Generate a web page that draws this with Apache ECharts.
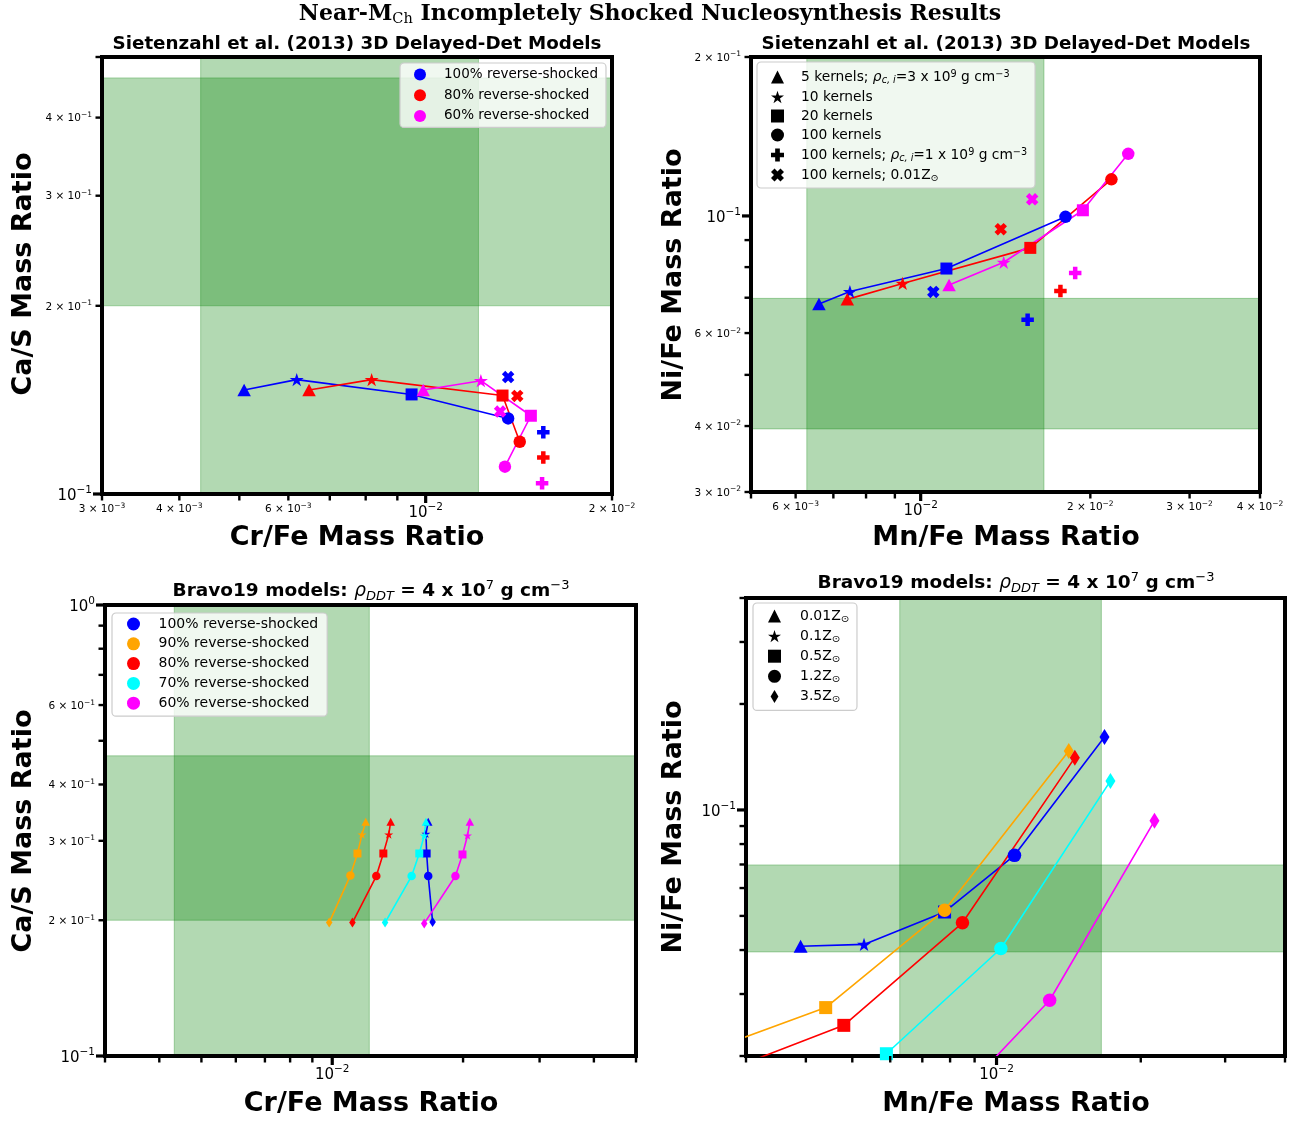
<!DOCTYPE html>
<html>
<head>
<meta charset="utf-8">
<title>Near-MCh Incompletely Shocked Nucleosynthesis Results</title>
<script src="https://cdn.jsdelivr.net/npm/echarts@6/dist/echarts.min.js"></script>
<style>
  html, body { margin: 0; padding: 0; background: #fff; }
  #chart { width: 1304px; height: 1121px; }
</style>
</head>
<body>
<div id="chart"></div>
<script>
// ---------------------------------------------------------------------------
// Sietenzahl et al. (2013) 3D delayed-detonation models
// point order: 5 kernels (rho_c,i = 3e9), 10 kernels, 20 kernels, 100 kernels,
//              100 kernels (rho_c,i = 1e9), 100 kernels (0.01 Zsun)
// ---------------------------------------------------------------------------
const sietShapes = ['triangle', 'star', 'square', 'circle', 'plus', 'cross'];
const sietLabels = [
  '5 kernels; ρc,i=3 x 10^9 g cm^-3',
  '10 kernels',
  '20 kernels',
  '100 kernels',
  '100 kernels; ρc,i=1 x 10^9 g cm^-3',
  '100 kernels; 0.01Z⊙'
];

const siet100CrFe = [5.09e-3, 6.19e-3, 9.49e-3, 1.359e-2, 1.549e-2, 1.359e-2];
const siet100CaS  = [0.1467, 0.1524, 0.1443, 0.1321, 0.1255, 0.1538];
const siet80CrFe  = [6.48e-3, 8.18e-3, 1.331e-2, 1.419e-2, 1.549e-2, 1.406e-2];
const siet80CaS   = [0.1467, 0.1524, 0.1437, 0.1212, 0.1144, 0.1435];
const siet60CrFe  = [9.91e-3, 1.228e-2, 1.479e-2, 1.343e-2, 1.542e-2, 1.319e-2];
const siet60CaS   = [0.1467, 0.1518, 0.1334, 0.1106, 0.1040, 0.1355];

const siet100MnFe = [6.60e-3, 7.49e-3, 1.111e-2, 1.807e-2, 1.548e-2, 1.053e-2];
const siet100NiFe = [0.0681, 0.0719, 0.0795, 0.0996, 0.0636, 0.0718];
const siet80MnFe  = [7.41e-3, 9.29e-3, 1.565e-2, 2.180e-2, 1.770e-2, 1.387e-2];
const siet80NiFe  = [0.0695, 0.0745, 0.0870, 0.1173, 0.0721, 0.0944];
const siet60MnFe  = [1.123e-2, 1.404e-2, 1.940e-2, 2.335e-2, 1.880e-2, 1.577e-2];
const siet60NiFe  = [0.0740, 0.0817, 0.1025, 0.1311, 0.0780, 0.1075];

// ---------------------------------------------------------------------------
// Bravo19 models, rho_DDT = 4e7 g cm^-3
// point order: 0.01, 0.1, 0.5, 1.2, 3.5 Zsun  (null = falls outside the axes)
// ---------------------------------------------------------------------------
const bravoShapes = ['triangle', 'star', 'square', 'circle', 'diamond'];
const bravoLabels = ['0.01Z⊙', '0.1Z⊙', '0.5Z⊙', '1.2Z⊙', '3.5Z⊙'];

const bravo100CrFe = [1.663e-2, 1.643e-2, 1.649e-2, 1.663e-2, 1.702e-2];
const bravo100CaS  = [0.3306, 0.3110, 0.2812, 0.2506, 0.1982];
const bravo90CrFe  = [1.194e-2, 1.171e-2, 1.143e-2, 1.101e-2, 9.84e-3];
const bravo90CaS   = [0.3306, 0.3100, 0.2812, 0.2514, 0.1976];
const bravo80CrFe  = [1.363e-2, 1.349e-2, 1.311e-2, 1.263e-2, 1.113e-2];
const bravo80CaS   = [0.3306, 0.3100, 0.2812, 0.2506, 0.1976];
const bravo70CrFe  = [1.643e-2, 1.628e-2, 1.586e-2, 1.523e-2, 1.323e-2];
const bravo70CaS   = [0.3306, 0.3083, 0.2812, 0.2506, 0.1976];
const bravo60CrFe  = [2.073e-2, 2.048e-2, 1.994e-2, 1.921e-2, 1.628e-2];
const bravo60CaS   = [0.3306, 0.3083, 0.2798, 0.2506, 0.1968];

const bravo100MnFe = [3.90e-3, 5.29e-3, 7.79e-3, 1.090e-2, 1.680e-2];
const bravo100NiFe = [0.0410, 0.0415, 0.0513, 0.0743, 0.1612];
const bravo90MnFe  = [null, 2.50e-3, 4.40e-3, 7.79e-3, 1.415e-2];
const bravo90NiFe  = [null, 0.0207, 0.02745, 0.0519, 0.1471];
const bravo80MnFe  = [null, 2.82e-3, 4.80e-3, 8.49e-3, 1.457e-2];
const bravo80NiFe  = [null, 0.0185, 0.02444, 0.0478, 0.1408];
const bravo70MnFe  = [null, null, 5.89e-3, 1.021e-2, 1.729e-2];
const bravo70NiFe  = [null, null, 0.0203, 0.0404, 0.1209];
const bravo60MnFe  = [null, null, 9.33e-3, 1.291e-2, 2.136e-2];
const bravo60NiFe  = [null, null, 0.0181, 0.0288, 0.0931];

// observed abundance ranges (shaded bands)
const crFeBand = [4.33e-3, 1.217e-2];
const caSBand  = [0.2, 0.463];
const mnFeBand = [6.28e-3, 1.655e-2];
const niFeBand = [0.0395, 0.0698];

// axis ranges
const tlX = [0.003, 0.02], tlY = [0.1, 0.5];
const trX = [0.005, 0.04], trY = [0.03, 0.2];
const blX = [0.003, 0.05], blY = [0.1, 1];
const brX = [0.003, 0.04], brY = [0.02, 0.4];

// tick positions and their labels ('' = unlabelled tick)
const tlXTicks = [0.003, 0.004, 0.005, 0.006, 0.007, 0.008, 0.009, 0.01, 0.02];
const tlXTickLabels = ['3 × 10^{−3}', '4 × 10^{−3}', '', '6 × 10^{−3}', '', '', '', '10^{−2}', '2 × 10^{−2}'];
const tlYTicks = [0.1, 0.2, 0.3, 0.4, 0.5];
const tlYTickLabels = ['10^{−1}', '2 × 10^{−1}', '3 × 10^{−1}', '4 × 10^{−1}', ''];

const trXTicks = [0.005, 0.006, 0.007, 0.008, 0.009, 0.01, 0.02, 0.03, 0.04];
const trXTickLabels = ['', '6 × 10^{−3}', '', '', '', '10^{−2}', '2 × 10^{−2}', '3 × 10^{−2}', '4 × 10^{−2}'];
const trYTicks = [0.03, 0.04, 0.05, 0.06, 0.07, 0.08, 0.09, 0.1, 0.2];
const trYTickLabels = ['3 × 10^{−2}', '4 × 10^{−2}', '', '6 × 10^{−2}', '', '', '', '10^{−1}', '2 × 10^{−1}'];

const blXTicks = [0.003, 0.004, 0.005, 0.006, 0.007, 0.008, 0.009, 0.01, 0.02, 0.03, 0.04, 0.05];
const blXTickLabels = ['', '', '', '', '', '', '', '10^{−2}', '', '', '', ''];
const blYTicks = [0.1, 0.2, 0.3, 0.4, 0.5, 0.6, 0.7, 0.8, 0.9, 1];
const blYTickLabels = ['10^{−1}', '2 × 10^{−1}', '3 × 10^{−1}', '4 × 10^{−1}', '', '6 × 10^{−1}', '', '', '', '10^{0}'];

const brXTicks = [0.003, 0.004, 0.005, 0.006, 0.007, 0.008, 0.009, 0.01, 0.02, 0.03, 0.04];
const brXTickLabels = ['', '', '', '', '', '', '', '10^{−2}', '', '', ''];
const brYTicks = [0.02, 0.03, 0.04, 0.05, 0.06, 0.07, 0.08, 0.09, 0.1, 0.2, 0.3, 0.4];
const brYTickLabels = ['', '', '', '', '', '', '', '', '10^{−1}', '', '', ''];

// ---------------------------------------------------------------------------
const COLORS = { s100: '#0000ff', s90: '#ffa500', s80: '#ff0000', s70: '#00ffff', s60: '#ff00ff' };
const NAMES = {
  s100: '100% reverse-shocked', s90: '90% reverse-shocked', s80: '80% reverse-shocked',
  s70: '70% reverse-shocked', s60: '60% reverse-shocked'
};

const SYMBOLS = {
  triangle: 'triangle',
  star: 'path://M50,0L61.23,34.55L97.55,34.55L68.17,55.9L79.39,90.45L50,69.1L20.61,90.45L31.83,55.9L2.45,34.55L38.77,34.55Z',
  square: 'rect',
  circle: 'circle',
  plus: 'path://M32,0H68V32H100V68H68V100H32V68H0V32H32Z',
  cross: 'path://M0,27L27,0L50,23L73,0L100,27L77,50L100,73L73,100L50,77L27,100L0,73L23,50Z',
  diamond: 'path://M30,0L60,50L30,100L0,50Z'
};

const sizeTop = { triangle: [13.5, 12.5], star: [14, 13.3], square: [12, 12], circle: [12.5, 12.5], plus: [12.5, 12.5], cross: [12.5, 12.5] };
const sizeBL  = { triangle: [8.5, 8], star: [9, 8.6], square: [8, 8], circle: [8.5, 8.5], diamond: [6.5, 10] };
const sizeBR  = { triangle: [14, 13], star: [14, 13.3], square: [13, 13], circle: [13.5, 13.5], diamond: [10, 16] };

const FONT = 'DejaVu Sans';

function pointsOf(xs, ys, shapes, sizes, idx) {
  return idx.filter(i => xs[i] != null && ys[i] != null).map(i => ({
    value: [xs[i], ys[i]],
    symbol: SYMBOLS[shapes[i]],
    symbolSize: sizes[shapes[i]]
  }));
}

function lineSeries(key, grid, data) {
  const color = COLORS[key];
  return {
    type: 'line', name: NAMES[key], xAxisIndex: grid, yAxisIndex: grid, data,
    z: 3, clip: true, silent: true, showSymbol: true, color,
    lineStyle: { color, width: 1.6 },
    itemStyle: { color, borderWidth: 0 },
    emphasis: { disabled: true }
  };
}

function scatterSeries(key, grid, data) {
  const color = COLORS[key];
  return {
    type: 'scatter', name: NAMES[key], xAxisIndex: grid, yAxisIndex: grid, data,
    z: 3, clip: true, silent: true,
    itemStyle: { color, opacity: 1, borderWidth: 0 },
    emphasis: { disabled: true }
  };
}

function bandSeries(grid, xBand, yBand) {
  return {
    type: 'scatter', xAxisIndex: grid, yAxisIndex: grid, data: [], z: 1, silent: true,
    markArea: {
      silent: true,
      itemStyle: { color: 'rgba(0,128,0,0.3)', borderColor: 'rgba(0,128,0,0.3)', borderWidth: 1 },
      data: [
        [{ xAxis: xBand[0] }, { xAxis: xBand[1] }],
        [{ yAxis: yBand[0] }, { yAxis: yBand[1] }]
      ]
    }
  };
}

// log tick labels in mathtext style: mantissa x 10 with superscript exponent
const tickRich = {
  b: { fontFamily: FONT, fontSize: 10.5, lineHeight: 13, verticalAlign: 'bottom', fill: '#000' },
  s: { fontFamily: FONT, fontSize: 7.5, lineHeight: 7.5, verticalAlign: 'top', fill: '#000' },
  B: { fontFamily: FONT, fontSize: 15, lineHeight: 19, verticalAlign: 'bottom', fill: '#000' },
  S: { fontFamily: FONT, fontSize: 10.5, lineHeight: 10, verticalAlign: 'top', fill: '#000' }
};
function richTick(label, major) {
  const m = label.match(/^(.*)\^\{(.*)\}$/);
  const b = major ? 'B' : 'b', s = major ? 'S' : 's';
  return '{' + b + '|' + m[1] + '}{' + s + '|' + m[2] + '}';
}

function tickSeries(grid, dim, values, labels, otherEnd) {
  return {
    type: 'custom', xAxisIndex: grid, yAxisIndex: grid, z: 4, silent: true, clip: false,
    data: values.map(v => dim === 'x' ? [v, otherEnd] : [otherEnd, v]),
    renderItem: function (params, api) {
      const i = params.dataIndex;
      const lg = Math.log10(values[i]);
      const major = Math.abs(lg - Math.round(lg)) < 1e-6;
      const p = api.coord([api.value(0), api.value(1)]);
      const len = major ? 9 : 6.5;
      const lw = major ? 3.2 : 2.4;
      const text = labels[i] ? richTick(labels[i], major) : '';
      const kids = [];
      if (dim === 'x') {
        kids.push({ type: 'line', shape: { x1: p[0], y1: p[1], x2: p[0], y2: p[1] + len }, style: { stroke: '#000', lineWidth: lw } });
        if (text) kids.push({ type: 'text', x: p[0], y: p[1] + 8,
          style: { text, rich: tickRich, align: 'center', verticalAlign: 'top', fill: '#000' } });
      } else {
        kids.push({ type: 'line', shape: { x1: p[0] - len, y1: p[1], x2: p[0], y2: p[1] }, style: { stroke: '#000', lineWidth: lw } });
        if (text) kids.push({ type: 'text', x: p[0] - 10, y: p[1],
          style: { text, rich: tickRich, align: 'right', verticalAlign: 'middle', fill: '#000' } });
      }
      return { type: 'group', children: kids };
    }
  };
}

function legendDummy(name, shape, grid) {
  return { type: 'scatter', name, xAxisIndex: grid, yAxisIndex: grid, data: [], symbol: SYMBOLS[shape],
           itemStyle: { color: '#000', opacity: 1 }, silent: true };
}

// ---------------------------------------------------------------------------
const series = [];
series.push(bandSeries(0, crFeBand, caSBand));
series.push(bandSeries(1, mnFeBand, niFeBand));
series.push(bandSeries(2, crFeBand, caSBand));
series.push(bandSeries(3, mnFeBand, niFeBand));

// top-left: Cr/Fe vs Ca/S, Sietenzahl
[['s100', siet100CrFe, siet100CaS], ['s80', siet80CrFe, siet80CaS], ['s60', siet60CrFe, siet60CaS]].forEach(([k, xs, ys]) => {
  series.push(lineSeries(k, 0, pointsOf(xs, ys, sietShapes, sizeTop, [0, 1, 2, 3])));
  series.push(scatterSeries(k, 0, pointsOf(xs, ys, sietShapes, sizeTop, [4, 5])));
});
// top-right: Mn/Fe vs Ni/Fe, Sietenzahl
[['s100', siet100MnFe, siet100NiFe], ['s80', siet80MnFe, siet80NiFe], ['s60', siet60MnFe, siet60NiFe]].forEach(([k, xs, ys]) => {
  series.push(lineSeries(k, 1, pointsOf(xs, ys, sietShapes, sizeTop, [0, 1, 2, 3])));
  series.push(scatterSeries(k, 1, pointsOf(xs, ys, sietShapes, sizeTop, [4, 5])));
});
// bottom-left: Cr/Fe vs Ca/S, Bravo19
[['s100', bravo100CrFe, bravo100CaS], ['s90', bravo90CrFe, bravo90CaS], ['s80', bravo80CrFe, bravo80CaS],
 ['s70', bravo70CrFe, bravo70CaS], ['s60', bravo60CrFe, bravo60CaS]].forEach(([k, xs, ys]) => {
  series.push(lineSeries(k, 2, pointsOf(xs, ys, bravoShapes, sizeBL, [0, 1, 2, 3, 4])));
});
// bottom-right: Mn/Fe vs Ni/Fe, Bravo19
[['s100', bravo100MnFe, bravo100NiFe], ['s90', bravo90MnFe, bravo90NiFe], ['s80', bravo80MnFe, bravo80NiFe],
 ['s70', bravo70MnFe, bravo70NiFe], ['s60', bravo60MnFe, bravo60NiFe]].forEach(([k, xs, ys]) => {
  series.push(lineSeries(k, 3, pointsOf(xs, ys, bravoShapes, sizeBR, [0, 1, 2, 3, 4])));
});

sietLabels.forEach((n, i) => series.push(legendDummy(n, sietShapes[i], 1)));
bravoLabels.forEach((n, i) => series.push(legendDummy(n, bravoShapes[i], 3)));

series.push(tickSeries(0, 'x', tlXTicks, tlXTickLabels, tlY[0]));
series.push(tickSeries(0, 'y', tlYTicks, tlYTickLabels, tlX[0]));
series.push(tickSeries(1, 'x', trXTicks, trXTickLabels, trY[0]));
series.push(tickSeries(1, 'y', trYTicks, trYTickLabels, trX[0]));
series.push(tickSeries(2, 'x', blXTicks, blXTickLabels, blY[0]));
series.push(tickSeries(2, 'y', blYTicks, blYTickLabels, blX[0]));
series.push(tickSeries(3, 'x', brXTicks, brXTickLabels, brY[0]));
series.push(tickSeries(3, 'y', brYTicks, brYTickLabels, brX[0]));

// ---------------------------------------------------------------------------
const gridBase = { show: true, borderColor: '#000', borderWidth: 4, backgroundColor: 'transparent', z: 2 };
const grids = [
  Object.assign({ left: 102, top: 57, width: 510, height: 437 }, gridBase),
  Object.assign({ left: 751, top: 57, width: 509, height: 435 }, gridBase),
  Object.assign({ left: 105, top: 605, width: 531, height: 451 }, gridBase),
  Object.assign({ left: 746, top: 598, width: 539, height: 458 }, gridBase)
];
function logAxis(grid, range) {
  return {
    type: 'log', logBase: 10, gridIndex: grid, min: range[0], max: range[1],
    axisLine: { show: false }, axisTick: { show: false }, axisLabel: { show: false },
    splitLine: { show: false }, minorTick: { show: false }, minorSplitLine: { show: false }
  };
}

// legends
const legendBox = {
  orient: 'vertical', selectedMode: false,
  backgroundColor: 'rgba(255,255,255,0.8)', borderColor: '#cccccc', borderWidth: 1.2, borderRadius: 4
};
const sietLegendRich = {
  '5 kernels; ρc,i=3 x 10^9 g cm^-3': '{g| }{t|5 kernels; }{i|ρ}{sub|c, i}{t|=3 x 10}{sup|9}{t| g cm}{sup|−3}',
  '10 kernels': '{g| }{t|10 kernels}',
  '20 kernels': '{g| }{t|20 kernels}',
  '100 kernels': '{g| }{t|100 kernels}',
  '100 kernels; ρc,i=1 x 10^9 g cm^-3': '{g| }{t|100 kernels; }{i|ρ}{sub|c, i}{t|=1 x 10}{sup|9}{t| g cm}{sup|−3}',
  '100 kernels; 0.01Z⊙': '{g| }{t|100 kernels; 0.01Z}{sub|⊙}'
};
function legendRich(size, gap, lh) {
  return {
    g: { width: gap, fontSize: size },
    t: { fontFamily: FONT, fontSize: size, lineHeight: lh, verticalAlign: 'middle', color: '#000' },
    i: { fontFamily: FONT, fontStyle: 'italic', fontSize: size, lineHeight: lh, verticalAlign: 'middle', color: '#000' },
    sup: { fontFamily: FONT, fontSize: size * 0.7, lineHeight: 9, verticalAlign: 'top', color: '#000' },
    sub: { fontFamily: FONT, fontStyle: 'italic', fontSize: size * 0.7, lineHeight: 7, verticalAlign: 'bottom', color: '#000' }
  };
}

const legends = [
  Object.assign({}, legendBox, {
    left: 400, top: 63, padding: [4.5, 8, 4.5, 14], itemWidth: 12, itemHeight: 12, itemGap: 6.7,
    data: ['s100', 's80', 's60'].map(k => ({ name: NAMES[k], icon: 'circle' })),
    formatter: n => '{g| }{t|' + n + '}',
    textStyle: { rich: legendRich(13.5, 13, 14) }
  }),
  Object.assign({}, legendBox, {
    left: 757, top: 62, padding: [7, 8, 5, 14], itemWidth: 13, itemHeight: 13, itemGap: 5,
    data: sietLabels.map((n, i) => ({ name: n, icon: SYMBOLS[sietShapes[i]] })),
    formatter: n => sietLegendRich[n],
    textStyle: { rich: legendRich(13.8, 12, 16) }
  }),
  Object.assign({}, legendBox, {
    left: 112, top: 613, padding: [4, 9, 6, 15], itemWidth: 13, itemHeight: 13, itemGap: 5.8,
    data: ['s100', 's90', 's80', 's70', 's60'].map(k => ({ name: NAMES[k], icon: 'circle' })),
    formatter: n => '{g| }{t|' + n + '}',
    textStyle: { rich: legendRich(14, 13.5, 15) }
  }),
  Object.assign({}, legendBox, {
    left: 753, top: 603, padding: [6, 8, 6, 15], itemWidth: 13, itemHeight: 13, itemGap: 5.1,
    data: bravoLabels.map((n, i) => ({ name: n, icon: SYMBOLS[bravoShapes[i]] })),
    formatter: n => '{g| }{t|' + n.replace('⊙', '') + '}{sub|⊙}',
    textStyle: { rich: legendRich(14, 14, 16) }
  })
];

// titles and axis names
function label(x, y, text, size, rotate) {
  return {
    type: 'text', x, y, rotation: rotate ? Math.PI / 2 : 0, z: 10,
    style: { text, fontFamily: FONT, fontWeight: 'bold', fontSize: size, fill: '#000', align: 'center', verticalAlign: 'middle' }
  };
}
const sietTitle = 'Sietenzahl et al. (2013) 3D Delayed-Det Models';
const bravoTitle = '{b|Bravo19 models: }{i|ρ}{is|DDT}{b| = 4 x 10}{s|7}{b| g cm}{s|−3}';
const bravoRich = {
  b: { fontFamily: FONT, fontWeight: 'bold', fontSize: 18.5, lineHeight: 24, verticalAlign: 'middle', fill: '#000' },
  i: { fontFamily: FONT, fontStyle: 'italic', fontSize: 18.5, lineHeight: 24, verticalAlign: 'middle', fill: '#000' },
  is: { fontFamily: FONT, fontStyle: 'italic', fontSize: 13, lineHeight: 9, verticalAlign: 'bottom', fill: '#000' },
  s: { fontFamily: FONT, fontSize: 13, lineHeight: 11, verticalAlign: 'top', fill: '#000' }
};
function richLabel(x, y, text, rich) {
  return { type: 'text', x, y, z: 10, style: { text, rich, align: 'center', verticalAlign: 'middle', fill: '#000' } };
}
const supRich = {
  r: { fontFamily: 'DejaVu Serif', fontWeight: 'bold', fontSize: 22, lineHeight: 26, verticalAlign: 'middle', fill: '#000' },
  c: { fontFamily: 'DejaVu Serif', fontSize: 14.5, lineHeight: 11, verticalAlign: 'bottom', fill: '#000' }
};

const graphics = [
  richLabel(650, 14, '{r|Near-M}{c|Ch}{r| Incompletely Shocked Nucleosynthesis Results}', supRich),
  label(357, 44, sietTitle, 18.3),
  label(1006, 44, sietTitle, 18.3),
  richLabel(371, 591, bravoTitle, bravoRich),
  richLabel(1016, 583, bravoTitle, bravoRich),
  label(357, 538, 'Cr/Fe Mass Ratio', 27),
  label(1006, 538, 'Mn/Fe Mass Ratio', 27),
  label(371, 1104, 'Cr/Fe Mass Ratio', 27),
  label(1016, 1104, 'Mn/Fe Mass Ratio', 27),
  label(24, 274, 'Ca/S Mass Ratio', 27, true),
  label(674, 275, 'Ni/Fe Mass Ratio', 27, true),
  label(24, 831, 'Ca/S Mass Ratio', 27, true),
  label(674, 827, 'Ni/Fe Mass Ratio', 27, true)
];

const chart = echarts.init(document.getElementById('chart'), null, { renderer: 'canvas', width: 1304, height: 1121 });
chart.setOption({
  animation: false,
  backgroundColor: '#ffffff',
  grid: grids,
  xAxis: [logAxis(0, tlX), logAxis(1, trX), logAxis(2, blX), logAxis(3, brX)],
  yAxis: [logAxis(0, tlY), logAxis(1, trY), logAxis(2, blY), logAxis(3, brY)],
  legend: legends,
  graphic: { elements: graphics },
  series
});
</script>
</body>
</html>
